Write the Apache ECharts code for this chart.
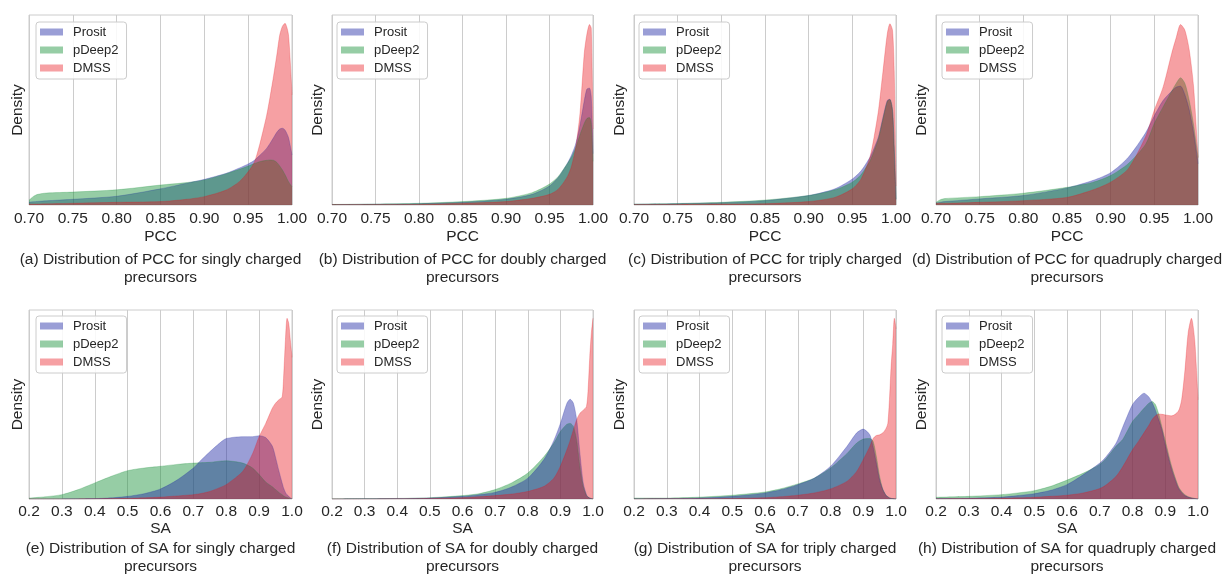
<!DOCTYPE html>
<html><head><meta charset="utf-8">
<script src="https://cdn.jsdelivr.net/npm/echarts@6/dist/echarts.min.js"></script>
<style>html,body{margin:0;padding:0;background:#fff}#c{width:1225px;height:574px}</style>
</head><body><div id="c"></div>
<script>
// ---------- DATA (density in arbitrary units, 0-100 of the axis height) ----------
const seriesNames = ['Prosit', 'pDeep2', 'DMSS'];
const captions = [
  '(a) Distribution of PCC for singly charged\nprecursors',
  '(b) Distribution of PCC for doubly charged\nprecursors',
  '(c) Distribution of PCC for triply charged\nprecursors',
  '(d) Distribution of PCC for quadruply charged\nprecursors',
  '(e) Distribution of SA for singly charged\nprecursors',
  '(f) Distribution of SA for doubly charged\nprecursors',
  '(g) Distribution of SA for triply charged\nprecursors',
  '(h) Distribution of SA for quadruply charged\nprecursors'
];
const axisNames = ['PCC', 'PCC', 'PCC', 'PCC', 'SA', 'SA', 'SA', 'SA'];

// (a) PCC, singly charged
const xA = [0.70,0.705,0.71,0.72,0.75,0.80,0.85,0.88,0.90,0.925,0.94,0.95,0.957,0.963,0.971,0.975,0.979,0.983,0.986,0.989,0.992,0.996,1.00];
const prositA = [1.5,1.7,1.9,2.2,3.0,4.6,8.5,11.5,13.5,16.7,19.5,21.6,23.5,26,29.8,32.5,35.5,38.5,40,40.4,39.5,35.5,26.3];
const pdeepA  = [2.5,4.5,5.6,6.3,6.8,8.0,10.5,11.8,13.2,16.5,18.8,20.5,21.8,22.8,23.5,23.7,23.5,22.3,20.5,18.5,16,12.3,9.6];
const dmssA   = [0.5,0.5,0.5,0.6,0.9,1.4,1.8,3.0,4.4,7.9,12.3,17.5,22.5,31.6,47,57,68,80,89.5,94,95.6,89.5,58];

// (b) PCC, doubly charged
const xB = [0.70,0.75,0.80,0.85,0.90,0.93,0.95,0.96,0.97,0.975,0.98,0.985,0.99,0.993,0.996,0.998,1.00];
const prositB = [0.2,0.4,0.7,1.4,3.0,5.6,10,14.5,21.5,26,32,42,55,61,61.5,57,27];
const pdeepB  = [0.3,0.5,0.9,1.8,3.5,6.5,11,15,21.5,25,30,37,43,45.5,46,43,23];
const dmssB   = [0.2,0.2,0.3,0.9,1.8,3.5,5.6,8.3,14.5,20,30,48,80,90,95,93,40];

// (c) PCC, triply charged
const xC = [0.70,0.75,0.80,0.85,0.90,0.93,0.95,0.96,0.97,0.975,0.98,0.985,0.99,0.993,0.996,0.998,1.00];
const prositC = [0.4,0.7,1.2,2.3,5,8.5,13.7,18,25,30,36,46,55,55.6,50,30,3];
const pdeepC  = [0.5,0.8,1.4,2.6,5,8,12,16,23,28.5,35,45,54.5,55.5,50,30,3];
const dmssC   = [0.2,0.3,0.5,0.7,1.8,4,8.5,13.7,25,36,50,70,90,95.4,92,70,10];

// (d) PCC, quadruply charged
const xD = [0.70,0.705,0.71,0.75,0.80,0.85,0.88,0.90,0.92,0.94,0.95,0.96,0.97,0.975,0.98,0.985,0.99,0.995,1.00];
const prositD = [1.0,1.5,1.8,3.2,5,9,13,17,25,38,47,55,60,62,62.5,58,50,38,21.7];
const pdeepD  = [1.4,2.8,3.4,4.4,6.2,9.3,12,15.5,21.7,32,43,51.6,60,64,67,64,55,42,25];
const dmssD   = [0.9,0.9,0.9,1.4,2.3,4,8,12,19,36,50,62,80,88,95,92,81.5,62,25];

// (e) SA, singly charged
const xE = [0.2,0.25,0.3,0.35,0.4,0.45,0.5,0.55,0.6,0.65,0.7,0.72,0.75,0.78,0.8,0.85,0.88,0.9,0.92,0.94,0.95,0.96,0.97,0.975,0.98,0.985,0.99,0.995,1.0];
const prositE = [0,0,0.05,0.1,0.2,0.6,1.4,2.8,5.3,10,16.4,20,25,29.6,32,33,33,33.5,32.5,28,22,15,8.5,5.5,3.5,2.2,1.4,0.6,0.2];
const pdeepE  = [0.5,1.2,2.3,5,8.5,12,15,16.4,17.3,18.3,19,19.2,19.4,20,20.2,19,16.4,12.9,9,6.5,5,3.5,2.3,1.6,1.1,0.8,0.5,0.3,0.2];
const dmssE   = [0,0,0,0.05,0.1,0.2,0.35,0.6,1,1.6,2.3,2.8,4,6,7.6,14.6,24,33,40,48,50.7,52.5,54,66.5,84,95.6,93,84,75];

// (f) SA, doubly charged
const xF = [0.2,0.3,0.4,0.5,0.6,0.65,0.7,0.75,0.8,0.85,0.88,0.9,0.92,0.93,0.94,0.95,0.96,0.97,0.98,0.985,0.99,0.995,1.0];
const prositF = [0,0.1,0.2,0.5,1.4,2.3,3.5,6.3,11,21,31,40,50.7,52.8,50.7,42,24,8.5,2.3,1,0.5,0.2,0];
const pdeepF  = [0.1,0.2,0.3,0.7,1.8,2.8,5,8.5,13.7,22.5,29.6,35.7,39.6,40,38.4,31,17,6.7,1.8,1,0.5,0.2,0];
const dmssF   = [0,0,0.1,0.3,0.7,1.2,1.8,2.6,4,6.7,11,17.3,26,31,36.6,42,45.4,47,49,58,75,88,95.6];

// (g) SA, triply charged
const xG = [0.2,0.3,0.4,0.5,0.6,0.65,0.7,0.75,0.8,0.85,0.88,0.9,0.92,0.93,0.94,0.95,0.96,0.97,0.975,0.98,0.985,0.99,0.995,1.0];
const prositG = [0.1,0.2,0.5,1.4,3.2,5,7.6,11,17.3,27.8,35,37,34,27.8,19,10,5,1.8,1.2,0.5,0.3,0.2,0.1,0];
const pdeepG  = [0.5,0.5,1,2,3.7,5.5,8,11,16.4,24,29.6,31.7,32,30.5,22.5,12,5,1.8,1.2,0.7,0.4,0.2,0.1,0];
const dmssG   = [0,0.1,0.15,0.3,0.7,1.2,2,3.2,5.3,9.3,14.6,20.8,27.8,32,33.6,34,35,37.5,40,52.5,70,82,95.6,90];

// (h) SA, quadruply charged
const xH = [0.2,0.3,0.4,0.45,0.5,0.55,0.6,0.65,0.7,0.72,0.75,0.77,0.8,0.82,0.835,0.85,0.86,0.87,0.88,0.89,0.9,0.92,0.94,0.95,0.96,0.97,0.98,0.99,1.0];
const prositH = [0.2,0.4,1,1.8,2.8,4.6,7.6,12.9,19,22.5,29.6,38,50,54,56,54,51,47,42,36.6,28.7,15.5,5.8,3.5,1.8,1,0.5,0.2,0];
const pdeepH  = [0.9,1.4,2.3,3.2,4.4,6.7,10,13.7,18.3,21.5,28,31.5,41,45,48,50.7,51.6,50,45,38,31,17,6.7,4,2.3,1.2,0.7,0.3,0];
const dmssH   = [0.1,0.2,0.4,0.6,0.9,1.4,2,3.2,5.5,7.5,12,17,26,31,35,39,42,44,45,44.8,44.5,44,46.5,52.5,68,88,95.6,84,52.5];

const panelX = [xA, xB, xC, xD, xE, xF, xG, xH];
const panelY = [
  [prositA, pdeepA, dmssA], [prositB, pdeepB, dmssB], [prositC, pdeepC, dmssC], [prositD, pdeepD, dmssD],
  [prositE, pdeepE, dmssE], [prositF, pdeepF, dmssF], [prositG, pdeepG, dmssG], [prositH, pdeepH, dmssH]
];
const axisMin = [0.70,0.70,0.70,0.70,0.2,0.2,0.2,0.2];
const axisMax = [1.00,1.00,1.00,1.00,1.0,1.0,1.0,1.0];
const axisStep = [0.05,0.05,0.05,0.05,0.1,0.1,0.1,0.1];
const labelDigits = [2,2,2,2,1,1,1,1];

// ---------- STYLE / LAYOUT ----------
const FONT = "'Liberation Sans', Arial, sans-serif";
const TXT = '#262626';
const baseRGB = { Prosit: '31,39,164', pDeep2: '22,144,55', DMSS: '233,18,25' };
const fillAlpha = { Prosit: 0.45, pDeep2: 0.45, DMSS: 0.4 };
const colLeft = [29, 332, 634, 936];
const colWidth = [263, 261, 262, 262];
const rowTop = [15, 310];
const rowHeight = [190, 189];
const legendLeft = [36, 337, 639, 942];
const legendTop = [22, 316];
const captionTop = [251, 540];
const nameGapRow = [24, 21];
const labelMargin = [6, 5];
const densityGap = [3, 6, 6, 6];
// draw order per row (later = on top)
const drawOrder = [[0, 1, 2], [1, 0, 2]];

const grids = [], xAxes = [], yAxes = [], series = [], titles = [], legends = [];
for (let p = 0; p < 8; p++) {
  const r = Math.floor(p / 4), c = p % 4;
  grids.push({ left: colLeft[c], top: rowTop[r], width: colWidth[c], height: rowHeight[r],
    show: true, borderColor: '#cccccc', borderWidth: 1, backgroundColor: '#ffffff', containLabel: false });
  const d = labelDigits[p];
  xAxes.push({ type: 'value', gridIndex: p, min: axisMin[p], max: axisMax[p], interval: axisStep[p],
    axisLine: { show: false }, axisTick: { show: false },
    splitLine: { show: true, lineStyle: { color: '#cccccc', width: 1 } },
    axisLabel: { fontSize: 15.5, color: TXT, fontFamily: FONT, margin: labelMargin[r],
      formatter: v => v.toFixed(d), showMinLabel: true, showMaxLabel: true, hideOverlap: false },
    name: axisNames[p], nameLocation: 'middle', nameGap: nameGapRow[r],
    nameTextStyle: { fontSize: 15.5, color: TXT, fontFamily: FONT } });
  yAxes.push({ type: 'value', gridIndex: p, min: 0, max: 100,
    axisLine: { show: false }, axisTick: { show: false }, axisLabel: { show: false }, splitLine: { show: false },
    name: 'Density', nameLocation: 'middle', nameGap: densityGap[c],
    nameTextStyle: { fontSize: 15.5, color: TXT, fontFamily: FONT } });
  for (const s of drawOrder[r]) {
    const nm = seriesNames[s];
    const xs = panelX[p], ys = panelY[p][s];
    series.push({ type: 'line', name: nm, xAxisIndex: p, yAxisIndex: p,
      data: xs.map((x, i) => [x, ys[i]]),
      smooth: 0.25, showSymbol: false, symbol: 'none', silent: true, animation: false,
      itemStyle: { color: 'rgba(' + baseRGB[nm] + ',' + fillAlpha[nm] + ')' },
      lineStyle: { color: 'rgb(' + baseRGB[nm] + ')', width: 0.8, opacity: 0.3 },
      areaStyle: { color: 'rgb(' + baseRGB[nm] + ')', opacity: fillAlpha[nm] } });
  }
  titles.push({ text: captions[p], left: colLeft[c] + colWidth[c] / 2, top: captionTop[r], textAlign: 'center', padding: 0,
    textStyle: { fontSize: 15.5, fontWeight: 'normal', color: TXT, fontFamily: FONT, lineHeight: 17.5 } });
  legends.push({ orient: 'vertical', left: legendLeft[c], top: legendTop[r], selectedMode: false,
    icon: 'rect', itemWidth: 23, itemHeight: 7, itemGap: 4, padding: [3, 8, 4, 4],
    backgroundColor: 'rgba(255,255,255,0.85)', borderColor: '#cccccc', borderWidth: 1, borderRadius: 3,
    textStyle: { fontSize: 13, color: TXT, fontFamily: FONT, lineHeight: 14, padding: [0, 0, 0, 5] },
    data: seriesNames.map(n => ({ name: n, icon: 'rect', itemStyle: { color: 'rgba(' + baseRGB[n] + ',' + fillAlpha[n] + ')', borderWidth: 0 }, lineStyle: { width: 0 } })) });
}

const chart = echarts.init(document.getElementById('c'), null, { renderer: 'canvas' });
chart.setOption({
  backgroundColor: '#ffffff', animation: false,
  textStyle: { fontFamily: FONT },
  title: titles, legend: legends, grid: grids, xAxis: xAxes, yAxis: yAxes, series: series
});
</script></body></html>
